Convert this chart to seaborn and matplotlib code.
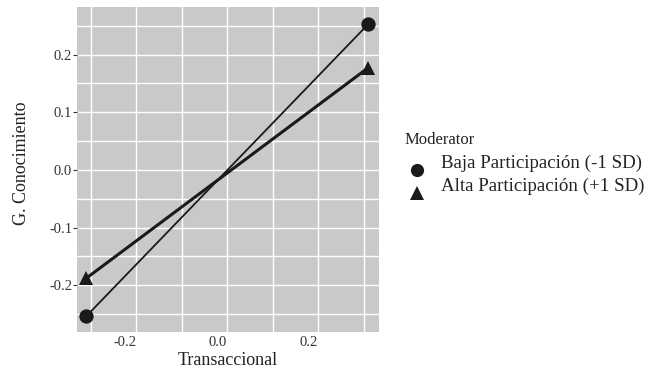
import matplotlib
matplotlib.use("Agg")
import matplotlib.pyplot as plt
from matplotlib.lines import Line2D
import seaborn as sns
import pandas as pd

# data
x_vals = [-0.31, 0.31]
baja_y = [-0.254, 0.2525]
alta_y = [-0.188, 0.177]
groups = ["Baja Participación (-1 SD)", "Alta Participación (+1 SD)"]
x_ticks = [-0.2, 0.0, 0.2]
y_ticks = [-0.2, -0.1, 0.0, 0.1, 0.2]

df = pd.DataFrame({
    "Transaccional": x_vals + x_vals,
    "G. Conocimiento": baja_y + alta_y,
    "Moderator": [groups[0]] * 2 + [groups[1]] * 2,
})

sns.set_theme(style="darkgrid")
plt.rcParams["font.family"] = ["Liberation Serif", "DejaVu Serif"]

fig = plt.figure(figsize=(6.48, 3.69), dpi=100)
ax = fig.add_axes([77 / 648, 1 - 332 / 369, (379 - 77) / 648, (332 - 7) / 369])
ax.set_facecolor("#c9c9cb")

sns.lineplot(
    data=df, x="Transaccional", y="G. Conocimiento",
    style="Moderator", size="Moderator",
    sizes={groups[0]: 1.3, groups[1]: 2.2},
    markers={groups[0]: "o", groups[1]: "^"},
    dashes=False, color="#1a1a1a", markersize=10.3,
    markeredgewidth=0, legend=False, ax=ax,
)

ax.set_xlim(-0.33, 0.334)
ax.set_ylim(-0.281, 0.2825)
ax.set_xticks(x_ticks)
ax.set_xticklabels(["-0.2", "0.0", "0.2"], ha="right")
ax.set_yticks(y_ticks)
ax.set_yticklabels(["-0.2", "-0.1", "0.0", "0.1", "0.2"])
ax.set_xticks([-0.3, -0.1, 0.1, 0.3], minor=True)
ax.set_yticks([-0.25, -0.15, -0.05, 0.05, 0.15, 0.25], minor=True)
ax.grid(True, which="both", color="white", linewidth=1.0)
ax.set_axisbelow(True)
for s in ax.spines.values():
    s.set_visible(False)

ax.tick_params(axis="y", which="major", length=3, width=0.8, color="#333333",
               pad=0.5, labelsize=10.5, labelcolor="#333333", left=True)
ax.tick_params(axis="x", which="major", length=0, pad=3, labelsize=10.5,
               labelcolor="#333333")
ax.tick_params(which="minor", length=0)

ax.set_xlabel("Transaccional", fontsize=13, color="#222222", labelpad=2)
ax.set_ylabel("G. Conocimiento", fontsize=13, color="#222222", labelpad=14,
              y=0.518)

# legend (manual, ggplot style)
fig.text(405 / 648, 1 - 140 / 369, "Moderator", fontsize=12, color="#222222",
         ha="left", va="center")
fig.text(441 / 648, 1 - 163 / 369, groups[0], fontsize=13.6, color="#222222",
         ha="left", va="center")
fig.text(441 / 648, 1 - 186 / 369, groups[1], fontsize=13.6, color="#222222",
         ha="left", va="center")
fig.add_artist(Line2D([416.5 / 648], [1 - 170 / 369], marker="o", markersize=9.5,
                      color="#1a1a1a", markeredgewidth=0, linestyle="none",
                      transform=fig.transFigure))
fig.add_artist(Line2D([416.5 / 648], [1 - 193 / 369], marker="^", markersize=9.5,
                      color="#1a1a1a", markeredgewidth=0, linestyle="none",
                      transform=fig.transFigure))

fig.savefig("out.png", dpi=100)
